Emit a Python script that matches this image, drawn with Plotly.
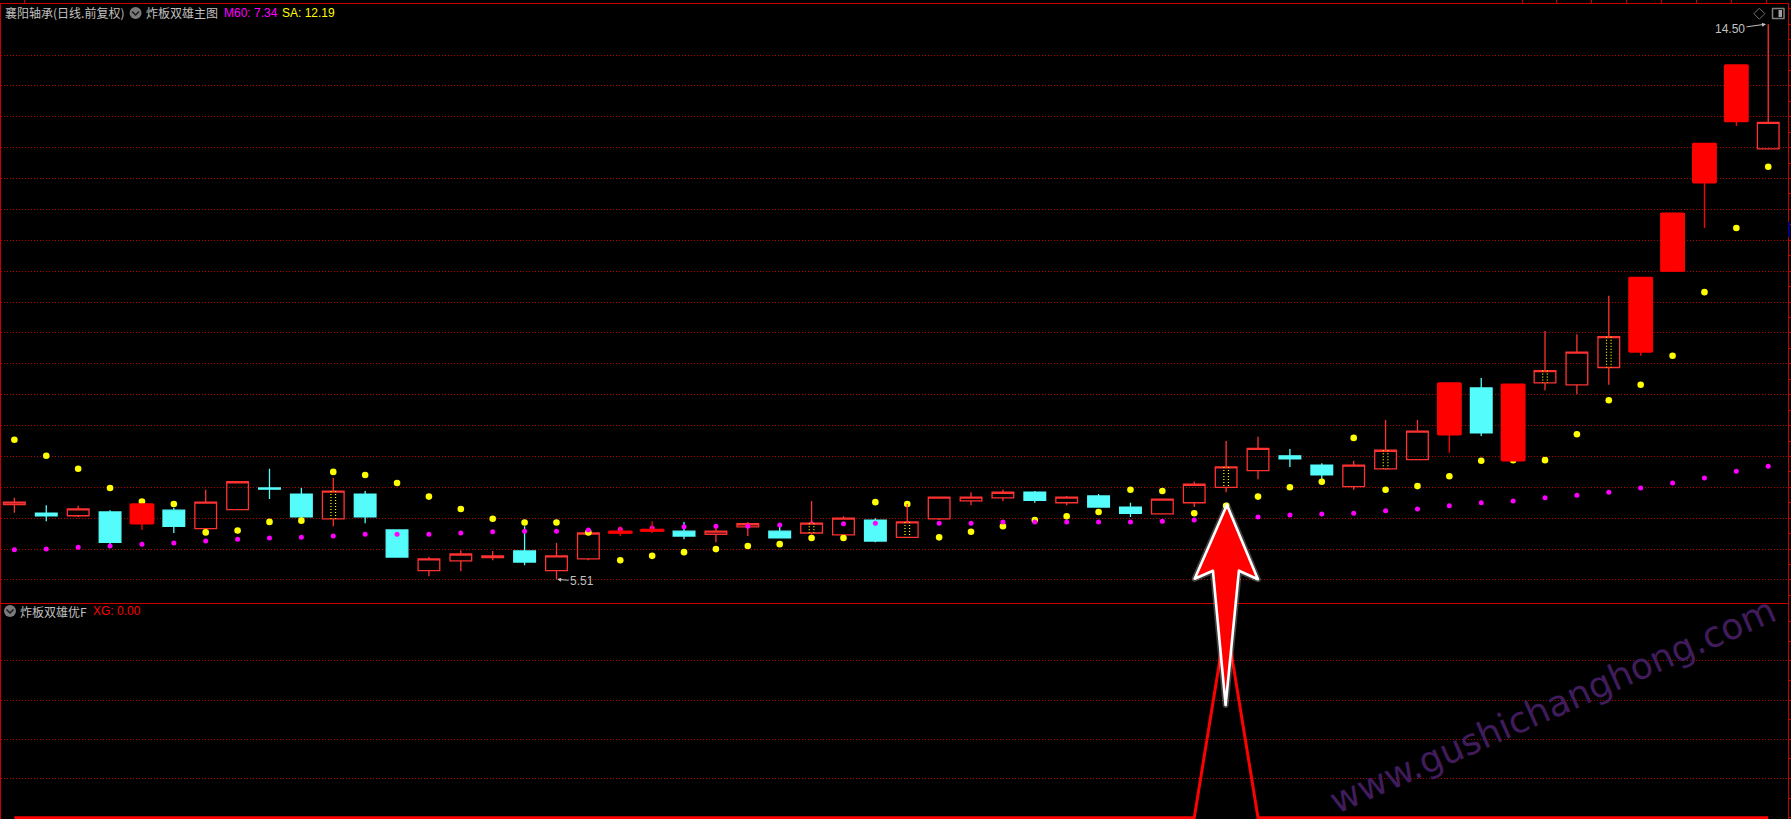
import plotly.graph_objects as go

W, H = 1791, 819

# kind: h = hollow red, c = cyan, s = solid red, d = hollow red with dotted yellow core
kinds = ["h","c","h","c","s","c","h","h","c","c",
         "d","c","c","h","h","h","c","h","h","s",
         "s","c","h","h","c","d","h","c","d","h",
         "h","h","c","h","c","c","h","h","d","h",
         "c","c","h","d","h","s","c","s","d","h",
         "d","s","s","s","s","h"]
body_top = [6.76,6.58,6.65,6.60,6.73,6.63,6.76,7.09,6.99,6.89,
            6.94,6.89,6.31,5.84,5.92,5.89,5.97,5.89,6.26,6.29,
            6.32,6.29,6.29,6.41,6.29,6.42,6.50,6.47,6.44,6.84,
            6.84,6.92,6.92,6.84,6.86,6.68,6.81,7.05,7.33,7.63,
            7.51,7.36,7.36,7.60,7.91,8.69,8.61,8.67,8.89,9.19,
            9.44,10.40,11.44,12.57,13.84,12.91]
body_bot = [6.72,6.54,6.54,6.11,6.41,6.37,6.33,6.64,6.97,6.52,
            6.49,6.52,5.87,5.65,5.81,5.86,5.79,5.65,5.84,6.26,
            6.29,6.21,6.24,6.36,6.18,6.26,6.23,6.13,6.19,6.49,
            6.78,6.83,6.79,6.75,6.68,6.58,6.57,6.75,7.00,7.27,
            7.46,7.20,7.01,7.30,7.45,7.85,7.88,7.43,8.69,8.66,
            8.94,9.19,10.50,11.93,12.92,12.48]
highs = [6.83,6.71,6.70,6.63,6.73,6.67,6.96,7.09,7.30,6.99,
         7.15,6.94,6.31,5.87,5.98,5.97,6.37,6.10,6.34,6.36,
         6.45,6.44,6.36,6.44,6.39,6.78,6.53,6.50,6.73,6.84,
         6.92,6.96,6.94,6.86,6.89,6.75,6.81,7.09,7.75,7.82,
         7.62,7.39,7.43,8.09,8.09,8.69,8.77,8.67,9.53,9.48,
         10.10,10.40,11.44,12.57,13.84,14.50]
lows = [6.59,6.45,6.52,6.08,6.31,6.26,6.33,6.64,6.81,6.50,
        6.37,6.42,5.87,5.56,5.64,5.82,5.74,5.51,5.82,6.21,
        6.26,6.16,6.11,6.21,6.18,6.23,6.23,6.11,6.19,6.47,
        6.71,6.78,6.75,6.71,6.67,6.52,6.57,6.68,6.92,7.13,
        7.33,7.12,6.96,7.28,7.44,7.56,7.83,7.43,8.57,8.51,
        8.66,9.13,10.50,11.20,12.85,12.47]
sa = [7.77,7.51,7.30,6.99,6.77,6.73,6.27,6.30,6.44,6.46,
      7.25,7.20,7.07,6.85,6.65,6.49,6.43,6.43,6.27,5.82,
      5.89,5.95,6.00,6.05,6.08,6.18,6.18,6.76,6.73,6.19,
      6.28,6.37,6.47,6.53,6.60,6.96,6.94,6.58,6.70,6.85,
      7.00,7.09,7.80,6.96,7.02,7.18,7.43,7.44,7.44,7.86,
      8.41,8.66,9.13,10.16,11.20,12.19]
m60 = [5.99,6.00,6.03,6.05,6.08,6.10,6.13,6.16,6.18,6.19,
       6.21,6.24,6.24,6.24,6.26,6.28,6.29,6.29,6.31,6.32,
       6.34,6.36,6.37,6.37,6.39,6.41,6.41,6.42,6.42,6.42,
       6.42,6.44,6.44,6.44,6.44,6.44,6.45,6.47,6.49,6.52,
       6.55,6.57,6.58,6.62,6.65,6.70,6.75,6.78,6.83,6.87,
       6.92,6.99,7.07,7.15,7.26,7.34]
xg = [0.0]*38 + [1.0] + [0.0]*17
main_grid = [5.5,6,6.5,7,7.5,8,8.5,9,9.5,10,10.5,11,11.5,12,12.5,13,13.5,14]
sub_grid = [0.2, 0.4, 0.6, 0.8]
top_ticks = [0.332,47.29,48.36,49.46,50.55,51.65,52.74,53.84,54.94]

TITLE = "襄阳轴承(日线.前复权)"
MAIN_NAME = "炸板双雄主图"
SUB_NAME = "炸板双雄优F"
M60_TXT = "M60: 7.34"
SA_TXT = "SA: 12.19"
XG_TXT = "XG: 0.00"
WATERMARK = "www.gushichanghong.com"

RED = "#FF3232"; SOLID = "#FF0000"; CYAN = "#54FCFC"; FRAME = "#C80000"; GRID = "#B40000"
GRAY = "#C0C0C0"
CJK = "Noto Sans CJK SC"; LAT = "Liberation Sans"

px = lambda x: x / W
py = lambda y: 1 - y / H

n = len(kinds)
xs = list(range(n))
XR = [-0.404, 55.62]
YR = [5.135, 14.834]
YR2 = [-0.0066, 1.097]

def pick(k):
    idx = [i for i in xs if kinds[i] == k]
    if k == "c":
        o, c = [body_top[i] for i in idx], [body_bot[i] for i in idx]
    else:
        o, c = [body_bot[i] for i in idx], [body_top[i] for i in idx]
    return idx, o, c, [highs[i] for i in idx], [lows[i] for i in idx]

def candle(k, color, fill, xa, ya):
    idx, o, c, hi, lo = pick(k)
    st = dict(line=dict(color=color, width=1.3), fillcolor=fill)
    return go.Candlestick(x=idx, open=o, close=c, high=hi, low=lo, increasing=st, decreasing=st,
                          xaxis=xa, yaxis=ya, whiskerwidth=0, hoverinfo="skip", showlegend=False)

fig = go.Figure()
fig.add_trace(candle("h", RED, "rgba(0,0,0,0)", "x", "y"))
fig.add_trace(candle("c", CYAN, CYAN, "x", "y"))
fig.add_trace(go.Scatter(x=xs, y=sa, mode="markers", marker=dict(symbol="circle", size=6.6, color="#FFFF00"), xaxis="x", yaxis="y"))
fig.add_trace(go.Scatter(x=xs, y=m60, mode="markers", marker=dict(symbol="circle", size=5, color="#FF00FF"), xaxis="x", yaxis="y"))

# overlay pair: solid and dotted bodies cover the dots
idx_s = [i for i in xs if kinds[i] == "s"]
fig.add_trace(go.Bar(x=idx_s, base=[body_bot[i] for i in idx_s],
                     y=[body_top[i] - body_bot[i] for i in idx_s], width=0.78,
                     marker=dict(color=SOLID, line=dict(width=0)), xaxis="x3", yaxis="y3"))
fig.add_trace(candle("s", SOLID, SOLID, "x3", "y3"))
fig.add_trace(candle("d", RED, "#000000", "x3", "y3"))
dx, dy = [], []
for i in xs:
    if kinds[i] == "d":
        for off in (-0.072, 0.072):
            dx += [i + off, i + off, None]
            dy += [body_top[i], body_bot[i], None]
fig.add_trace(go.Scatter(x=dx, y=dy, mode="lines", line=dict(color="#FFFF00", width=1.2, dash="1px,2px"),
                         xaxis="x3", yaxis="y3"))

fig.add_trace(go.Scatter(x=xs, y=xg, mode="lines", line=dict(color=SOLID, width=3), xaxis="x2", yaxis="y2"))

minor_main = dict(dtick=0.25, tick0=0, ticks="outside", ticklen=3, tickcolor=FRAME, tickwidth=1, showgrid=False)
minor_sub = dict(dtick=0.1, tick0=0, ticks="outside", ticklen=3, tickcolor=FRAME, tickwidth=1, showgrid=False)
dom_x = [px(0.5), px(1789)]
fig.update_layout(
    width=W, height=H, margin=dict(l=0, r=0, t=0, b=0, pad=0),
    paper_bgcolor="#000000", plot_bgcolor="#000000", showlegend=False, hovermode=False,
    boxgap=0.32, boxgroupgap=0, boxmode="overlay", barmode="overlay",
    xaxis=dict(domain=dom_x, range=XR, side="top", anchor="y", showgrid=False, zeroline=False,
               showline=True, mirror=True, linecolor=FRAME, linewidth=1,
               ticks="outside", ticklen=3, tickcolor=FRAME, tickwidth=1,
               tickmode="array", tickvals=top_ticks, showticklabels=False, rangeslider=dict(visible=False)),
    yaxis=dict(domain=[py(602.5), py(3.5)], range=YR, side="right", anchor="x", zeroline=False,
               showline=True, mirror=True, linecolor=FRAME, linewidth=1,
               ticks="outside", ticklen=3, tickcolor=FRAME, tickwidth=1,
               tickmode="array", tickvals=main_grid, showticklabels=False,
               showgrid=True, gridcolor=GRID, gridwidth=1, griddash="1px,2px", minor=minor_main),
    xaxis2=dict(domain=dom_x, range=XR, anchor="y2", showgrid=False, zeroline=False, showline=False,
                showticklabels=False, ticks=""),
    yaxis2=dict(domain=[0, py(602.5)], range=YR2, side="right", anchor="x2", zeroline=False,
                showline=True, mirror=True, linecolor=FRAME, linewidth=1,
                tickmode="array", tickvals=sub_grid, ticks="outside", ticklen=3, tickcolor=FRAME,
                showticklabels=False, showgrid=True, gridcolor=GRID, gridwidth=1, griddash="1px,2px",
                minor=minor_sub),
    xaxis3=dict(domain=dom_x, range=XR, overlaying="x", anchor="y3", visible=False,
                rangeslider=dict(visible=False)),
    yaxis3=dict(domain=[py(602.5), py(3.5)], range=YR, overlaying="y", anchor="x3", visible=False),
)

def label(x, y, text, color, fam=LAT, size=12):
    fig.add_annotation(xref="paper", yref="paper", x=px(x), y=py(y), text=text, showarrow=False,
                       xanchor="left", yanchor="middle", borderpad=0,
                       font=dict(family=fam, size=size, color=color))

label(3, 13, TITLE, GRAY, CJK)
label(144.5, 13, MAIN_NAME, GRAY, CJK)
label(222.5, 13, M60_TXT, "#FF00FF")
label(280.5, 13, SA_TXT, "#FFFF00")
label(18.5, 611, SUB_NAME, GRAY, CJK)
label(91, 611, XG_TXT, "#FF0000")

def note(i, v, text, ax, ay):
    fig.add_annotation(xref="x", yref="y", x=i, y=v, text=text, showarrow=True, ax=ax, ay=ay,
                       arrowhead=2, arrowsize=0.8, arrowwidth=1, arrowcolor=GRAY, standoff=0,
                       font=dict(family=LAT, size=12, color=GRAY))
note(54.93, highs[55], "14.50", -36, 5)
note(17.02, lows[17], "5.51", 25, 2)

fig.add_annotation(xref="paper", yref="paper", x=px(1553), y=py(705), text=WATERMARK, showarrow=False,
                   xanchor="center", yanchor="middle", textangle=-23.8,
                   font=dict(family="DejaVu Sans", size=36, color="#401C5C"))

def path(points, **kw):
    d = "M " + " L ".join(f"{px(a):.5f},{py(b):.5f}" for a, b in points) + " Z"
    fig.add_shape(type="path", path=d, xref="paper", yref="paper", layer="above", **kw)

arrow = [(1227.3, 505), (1258.3, 579.3), (1239.3, 570.7), (1226, 705), (1213.3, 570.7), (1195, 578.7)]
path(arrow, line=dict(color="rgba(255,255,255,0.25)", width=6), fillcolor="#FF0000")
path(arrow, line=dict(color="#FFFFFF", width=2.6), fillcolor="#FF0000")

def icon(cx, cy):
    fig.add_shape(type="circle", xref="paper", yref="paper", x0=px(cx - 6), x1=px(cx + 6), y0=py(cy - 6), y1=py(cy + 6),
                  fillcolor="#7A7A7A", line=dict(width=0), layer="above")
    fig.add_shape(type="path", xref="paper", yref="paper", layer="above", line=dict(color="#1E1E1E", width=1.6),
                  path=f"M {px(cx-3.5):.5f},{py(cy-1.5):.5f} L {px(cx):.5f},{py(cy+2):.5f} L {px(cx+3.5):.5f},{py(cy-1.5):.5f}")
icon(134.7, 13)
icon(9, 611)

path([(1760.3, 8.2), (1765.8, 13.7), (1760.3, 19.2), (1754.8, 13.7)], line=dict(color="#707070", width=1), fillcolor="rgba(0,0,0,0)")
fig.add_shape(type="rect", xref="paper", yref="paper", layer="above", x0=px(1773.5), x1=px(1785), y0=py(8.5), y1=py(18.5),
              line=dict(color="#808080", width=1.5), fillcolor="#000000")
fig.add_shape(type="rect", xref="paper", yref="paper", layer="above", x0=px(1779.5), x1=px(1783), y0=py(10), y1=py(17),
              line=dict(width=0), fillcolor="#A0A0A0")
fig.add_shape(type="rect", xref="paper", yref="paper", layer="above", x0=px(1789), x1=px(1791), y0=py(222), y1=py(237),
              line=dict(width=0), fillcolor="#000080")

fig.write_html("out.html", config=dict(displayModeBar=False),
               post_script="document.body.style.margin='0';document.documentElement.style.overflow='hidden';"
                           "document.querySelectorAll('.shapelayer path').forEach(function(p){p.style.strokeLinejoin='round';});")
